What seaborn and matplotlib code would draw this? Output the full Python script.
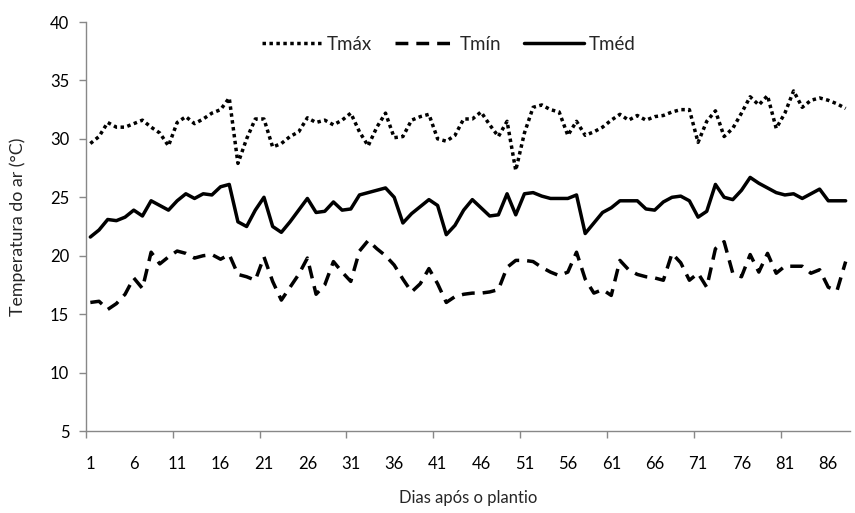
import numpy as np
import pandas as pd
import matplotlib
matplotlib.use("Agg")
import matplotlib.pyplot as plt
import seaborn as sns

# daily values
dias = list(range(1, 89))

tmax = [29.6, 30.2, 31.4, 31.0, 31.0, 31.3, 31.6, 31.0, 30.5, 29.4,
        31.4, 31.9, 31.3, 31.7, 32.2, 32.5, 33.5, 27.9, 30.0, 31.7,
        31.7, 29.3, 29.6, 30.2, 30.6, 31.8, 31.4, 31.6, 31.2, 31.6,
        32.2, 30.6, 29.4, 31.0, 32.2, 30.1, 30.2, 31.6, 31.9, 32.1,
        30.0, 29.8, 30.3, 31.7, 31.7, 32.3, 31.2, 30.2, 31.5, 27.3,
        30.5, 32.7, 32.9, 32.5, 32.3, 30.3, 31.5, 30.3, 30.6, 31.0,
        31.6, 32.1, 31.6, 32.0, 31.6, 31.9, 32.0, 32.3, 32.5, 32.5,
        29.7, 31.5, 32.4, 30.2, 30.9, 32.2, 33.6, 32.9, 33.7, 30.9,
        32.2, 34.1, 32.7, 33.3, 33.5, 33.3, 33.0, 32.6]

tmin = [16.0, 16.1, 15.4, 15.9, 16.7, 18.1, 17.2, 20.3, 19.3, 19.9,
        20.4, 20.2, 19.8, 20.0, 20.1, 19.7, 20.1, 18.4, 18.2, 17.9,
        19.9, 17.8, 16.2, 17.3, 18.4, 19.8, 16.7, 17.5, 19.5, 18.6,
        17.8, 20.4, 21.3, 20.6, 20.0, 19.2, 18.0, 16.9, 17.6, 18.9,
        17.6, 16.0, 16.5, 16.7, 16.8, 16.8, 16.9, 17.1, 19.0, 19.6,
        19.6, 19.5, 19.0, 18.6, 18.3, 18.6, 20.3, 18.0, 16.8, 17.1,
        16.6, 19.6, 18.8, 18.4, 18.2, 18.1, 17.9, 20.2, 19.4, 17.9,
        18.5, 17.3, 20.6, 21.2, 18.5, 18.2, 20.1, 18.6, 20.2, 18.5,
        19.1, 19.1, 19.1, 18.5, 18.8, 17.3, 17.0, 19.5]

tmed = [21.6, 22.2, 23.1, 23.0, 23.3, 23.9, 23.4, 24.7, 24.3, 23.9,
        24.7, 25.3, 24.9, 25.3, 25.2, 25.9, 26.1, 22.9, 22.5, 23.9,
        25.0, 22.5, 22.0, 22.9, 23.9, 24.9, 23.7, 23.8, 24.6, 23.9,
        24.0, 25.2, 25.4, 25.6, 25.8, 25.0, 22.8, 23.6, 24.2, 24.8,
        24.3, 21.8, 22.6, 23.9, 24.8, 24.1, 23.4, 23.5, 25.3, 23.5,
        25.3, 25.4, 25.1, 24.9, 24.9, 24.9, 25.2, 21.9, 22.8, 23.7,
        24.1, 24.7, 24.7, 24.7, 24.0, 23.9, 24.6, 25.0, 25.1, 24.7,
        23.3, 23.8, 26.1, 25.0, 24.8, 25.6, 26.7, 26.2, 25.8, 25.4,
        25.2, 25.3, 24.9, 25.3, 25.7, 24.7, 24.7, 24.7]

df = pd.DataFrame({"dia": dias, "Tmáx": tmax, "Tmín": tmin, "Tméd": tmed})

sns.set_style("white")
plt.rcParams["font.family"] = ["Lato", "DejaVu Sans"]

fig = plt.figure(figsize=(8.55, 5.13), dpi=100)
ax = fig.add_axes([86 / 855, (513 - 431) / 513, (850 - 86) / 855, (431 - 22) / 513])

estilos = {"Tmáx": (0, (1, 1)), "Tmín": (0, (3.7, 2.3)), "Tméd": "-"}
for serie, ls in estilos.items():
    sns.lineplot(data=df, x="dia", y=serie, ax=ax, color="black", lw=2.5,
                 linestyle=ls, label=serie)
for ln in ax.get_lines():
    ln.set_dash_capstyle("butt")

ax.set_xlim(0.5, 88.5)
ax.set_ylim(5, 40)
ax.set_yticks(range(5, 41, 5))
ax.set_xticks(range(1, 87, 5))
ax.set_xticks(np.arange(0.5, 81, 10), minor=True)

grey = "#888888"
for s in ["top", "right"]:
    ax.spines[s].set_visible(False)
for s in ["left", "bottom"]:
    ax.spines[s].set_color(grey)
    ax.spines[s].set_linewidth(1.0)

ax.tick_params(axis="y", which="major", direction="out", length=5, width=1,
               color=grey, labelsize=12, pad=7, labelcolor="black", left=True)
ax.tick_params(axis="x", which="major", length=0, labelsize=12, pad=18,
               labelcolor="black")
ax.tick_params(axis="x", which="minor", direction="out", length=5, width=1,
               color=grey, bottom=True)

ax.set_xlabel("Dias após o plantio", fontsize=12)
ax.set_ylabel("Temperatura do ar (°C)", fontsize=12.8)
ax.xaxis.label.set_va("center")
ax.xaxis.set_label_coords(0.5, -0.163)
ax.yaxis.label.set_va("center")
ax.yaxis.set_label_coords(-0.089, 0.5)

ax.legend(loc="center", bbox_to_anchor=(0.475, 0.946), ncol=3, frameon=False,
          fontsize=13.5, handlelength=3.2, handletextpad=0.27,
          columnspacing=1.2)

fig.savefig("out.png", dpi=100)
